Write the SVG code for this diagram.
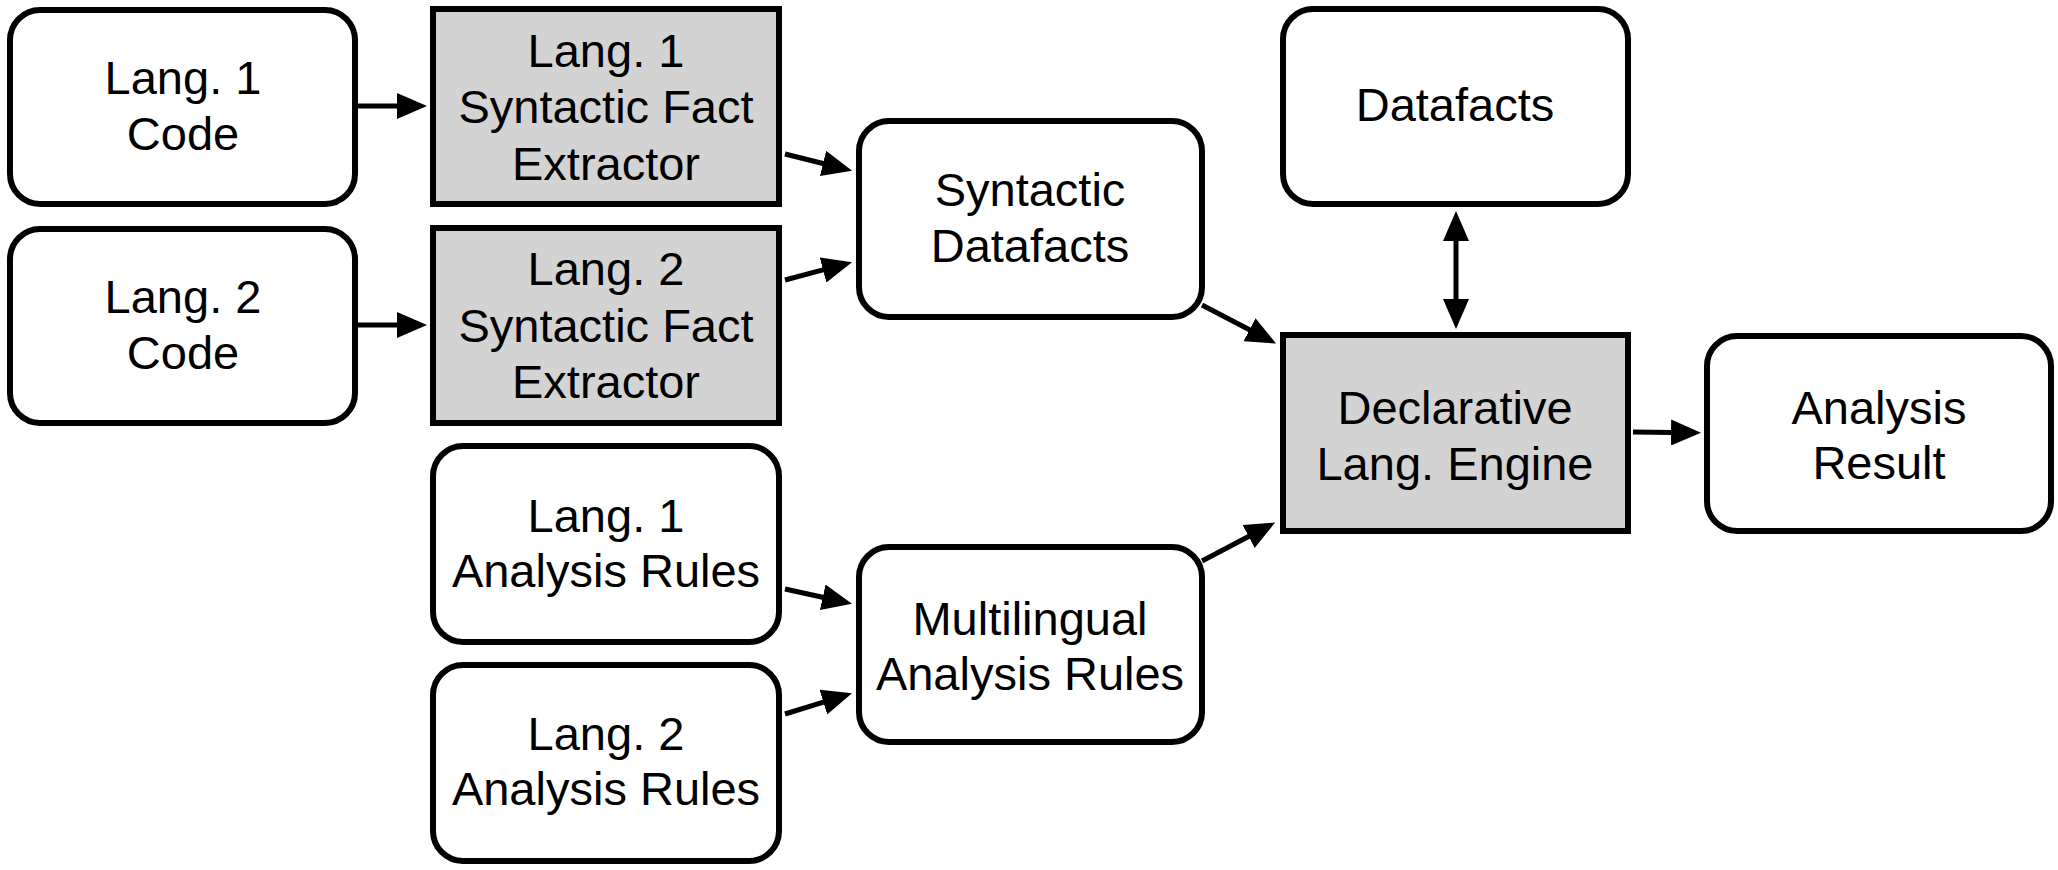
<svg xmlns="http://www.w3.org/2000/svg" width="2058" height="870" viewBox="0 0 2058 870">
<style>
.box{fill:#ffffff;stroke:#000000;stroke-width:6}
.gray{fill:#d3d3d3;stroke:#000000;stroke-width:6}
.lbl{font-family:"Liberation Sans",Arial,Helvetica,sans-serif;font-size:47px;fill:#000000;text-anchor:middle}
.edge{fill:none;stroke:#000000;stroke-width:5}
</style>
<defs>
<marker id="arr" markerUnits="userSpaceOnUse" markerWidth="30" markerHeight="26" refX="1" refY="13" orient="auto-start-reverse" viewBox="0 0 30 26">
<path d="M0,0 L30,13 L0,26 z" fill="#000000"/>
</marker>
</defs>
<rect width="2058" height="870" fill="#ffffff"/>
<g id="connectors">
<path class="edge" d="M358,106 L398,106" marker-end="url(#arr)"/>
<path class="edge" d="M358,325 L398,325" marker-end="url(#arr)"/>
<path class="edge" d="M785,154 L824,163.7" marker-end="url(#arr)"/>
<path class="edge" d="M785,280 L824,269.7" marker-end="url(#arr)"/>
<path class="edge" d="M1202,305 L1250.4,330.2" marker-end="url(#arr)"/>
<path class="edge" d="M1202,561 L1249.5,536" marker-end="url(#arr)"/>
<path class="edge" d="M1456,240 L1456,300" marker-start="url(#arr)" marker-end="url(#arr)"/>
<path class="edge" d="M1633,432 L1672,432.5" marker-end="url(#arr)"/>
<path class="edge" d="M785,589 L823.7,597.5" marker-end="url(#arr)"/>
<path class="edge" d="M785,714 L824.3,701.9" marker-end="url(#arr)"/>
</g>
<g id="lang1-code">
<rect class="box" x="10" y="10" width="345" height="194" rx="30"/>
<text class="lbl" x="183" y="94">Lang. 1</text>
<text class="lbl" x="183" y="150">Code</text>
</g>
<g id="lang2-code">
<rect class="box" x="10" y="229" width="345" height="194" rx="30"/>
<text class="lbl" x="183" y="313">Lang. 2</text>
<text class="lbl" x="183" y="369">Code</text>
</g>
<g id="lang1-extractor">
<rect class="gray" x="433" y="9" width="346" height="195"/>
<text class="lbl" x="606" y="67">Lang. 1</text>
<text class="lbl" x="606" y="123">Syntactic Fact</text>
<text class="lbl" x="606" y="180">Extractor</text>
</g>
<g id="lang2-extractor">
<rect class="gray" x="433" y="228" width="346" height="195"/>
<text class="lbl" x="606" y="285">Lang. 2</text>
<text class="lbl" x="606" y="342">Syntactic Fact</text>
<text class="lbl" x="606" y="398">Extractor</text>
</g>
<g id="syntactic-datafacts">
<rect class="box" x="859" y="121" width="343" height="196" rx="30"/>
<text class="lbl" x="1030" y="206">Syntactic</text>
<text class="lbl" x="1030" y="262">Datafacts</text>
</g>
<g id="datafacts">
<rect class="box" x="1283" y="9" width="345" height="195" rx="30"/>
<text class="lbl" x="1455" y="121">Datafacts</text>
</g>
<g id="engine">
<rect class="gray" x="1283" y="335" width="345" height="196"/>
<text class="lbl" x="1455" y="424">Declarative</text>
<text class="lbl" x="1455" y="480">Lang. Engine</text>
</g>
<g id="analysis-result">
<rect class="box" x="1707" y="336" width="344" height="195" rx="30"/>
<text class="lbl" x="1879" y="424">Analysis</text>
<text class="lbl" x="1879" y="479">Result</text>
</g>
<g id="lang1-rules">
<rect class="box" x="433" y="446" width="346" height="196" rx="30"/>
<text class="lbl" x="606" y="532">Lang. 1</text>
<text class="lbl" x="606" y="587">Analysis Rules</text>
</g>
<g id="lang2-rules">
<rect class="box" x="433" y="665" width="346" height="196" rx="30"/>
<text class="lbl" x="606" y="750">Lang. 2</text>
<text class="lbl" x="606" y="805">Analysis Rules</text>
</g>
<g id="multilingual-rules">
<rect class="box" x="859" y="547" width="343" height="195" rx="30"/>
<text class="lbl" x="1030" y="635">Multilingual</text>
<text class="lbl" x="1030" y="690">Analysis Rules</text>
</g>
</svg>
